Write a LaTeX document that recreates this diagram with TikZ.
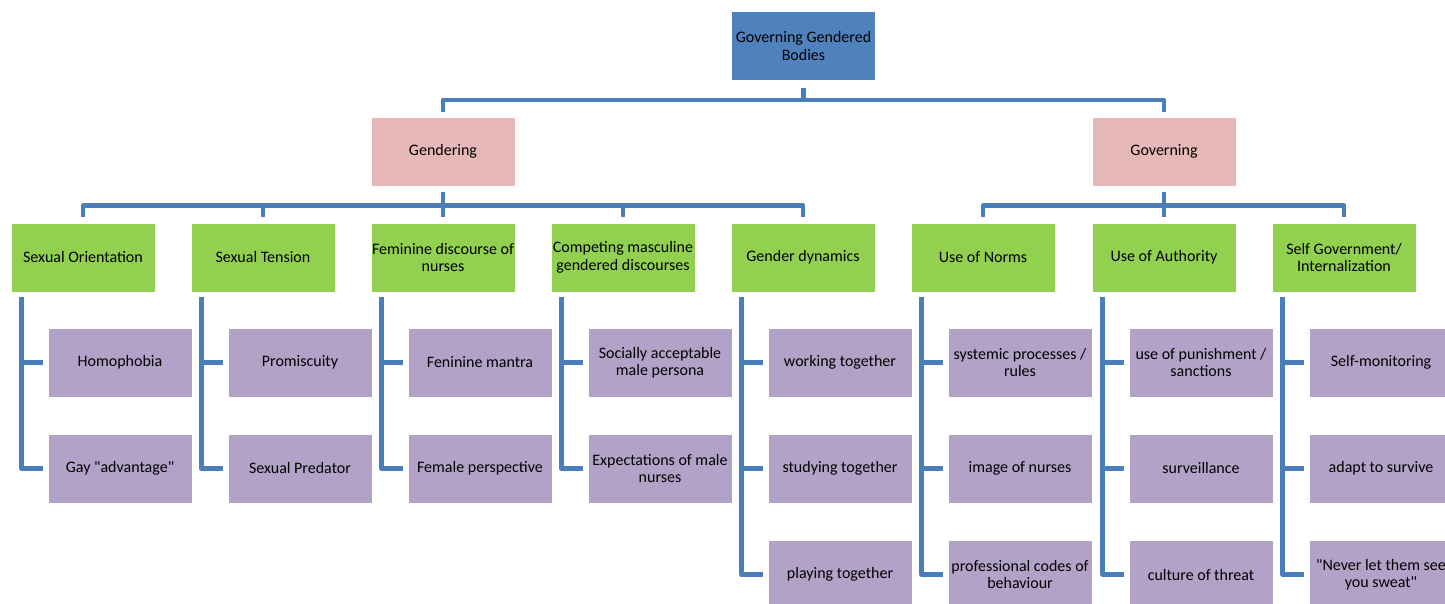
\documentclass[tikz,border=0pt]{standalone}
\usepackage{fontspec}
\setmainfont{Carlito}
\definecolor{rootblue}{HTML}{4F81BD}
\definecolor{pinkbox}{HTML}{E6B9B8}
\definecolor{greenbox}{HTML}{92D050}
\definecolor{purplebox}{HTML}{B3A2C7}
\definecolor{linkblue}{HTML}{4A7EBB}
\begin{document}
\begin{tikzpicture}[x=1pt,y=-1pt,
    box/.style={draw=white,line width=.8pt,minimum width=144pt,minimum height=69pt,
      inner sep=1pt,align=center,font=\fontsize{16}{17.5}\selectfont},
    topbox/.style={box,fill=rootblue},
    midbox/.style={box,fill=pinkbox},
    catbox/.style={box,fill=greenbox},
    codebox/.style={box,fill=purplebox},
    link/.style={draw=linkblue,line width=4.5pt,line join=round}]
  \useasboundingbox (0,0) rectangle (1445,604);
  \clip (0,0) rectangle (1445,604);
  % root and the two halves
  \node[topbox] (root) at (803.5,46) {Governing Gendered\\Bodies};
  \node[midbox] (gend) at (443,151.5) {Gendering};
  \node[midbox] (govn) at (1164,151.5) {Governing};
  % categories
  \node[catbox] (so) at (83,257.5) {Sexual Orientation};
  \node[catbox] (st) at (263,257.5) {Sexual Tension};
  \node[catbox] (fd) at (443,257.5) {Feminine discourse of\\nurses};
  \node[catbox] (cm) at (623,257.5) {Competing masculine\\gendered discourses};
  \node[catbox] (gd) at (803,257.5) {Gender dynamics};
  \node[catbox] (un) at (983,257.5) {Use of Norms};
  \node[catbox] (ua) at (1164,257.5) {Use of Authority};
  \node[catbox] (sg) at (1344,257.5) {Self Government/\\Internalization};
  % codes
  \node[codebox] (homo) at (120,362.5) {Homophobia};
  \node[codebox] (gay) at (120,468.5) {Gay \textquotedbl advantage\textquotedbl};
  \node[codebox] (prom) at (300,362.5) {Promiscuity};
  \node[codebox] (pred) at (300,468.5) {Sexual Predator};
  \node[codebox] (mantra) at (480,362.5) {Feninine mantra};
  \node[codebox] (persp) at (480,468.5) {Female perspective};
  \node[codebox] (persona) at (660,362.5) {Socially acceptable\\male persona};
  \node[codebox] (expect) at (660,468.5) {Expectations of male\\nurses};
  \node[codebox] (work) at (840,362.5) {working together};
  \node[codebox] (study) at (840,468.5) {studying together};
  \node[codebox] (play) at (840,574.5) {playing together};
  \node[codebox] (proc) at (1020,362.5) {systemic processes /\\rules};
  \node[codebox] (image) at (1020,468.5) {image of nurses};
  \node[codebox] (codes) at (1020,574.5) {professional codes of\\behaviour};
  \node[codebox] (punish) at (1201,362.5) {use of punishment /\\sanctions};
  \node[codebox] (surv) at (1201,468.5) {surveillance};
  \node[codebox] (threat) at (1201,574.5) {culture of threat};
  \node[codebox] (monit) at (1381,362.5) {Self-monitoring};
  \node[codebox] (adapt) at (1381,468.5) {adapt to survive};
  \node[codebox] (sweat) at (1381,574.5) {\textquotedbl Never let them see\\you sweat\textquotedbl};
  % connectors
  \foreach \c in {gend,govn}
    \draw[link] ([yshift=-7pt]root.south) -- ++(0,12) -| ([yshift=5pt]\c.north);
  \foreach \c in {so,st,fd,cm,gd}
    \draw[link] ([yshift=-6pt]gend.south) -- ++(0,13) -| ([yshift=6pt]\c.north);
  \foreach \c in {un,ua,sg}
    \draw[link] ([yshift=-6pt]govn.south) -- ++(0,13) -| ([yshift=6pt]\c.north);
  \foreach \c/\k in {so/homo,so/gay,st/prom,st/pred,fd/mantra,fd/persp,cm/persona,cm/expect,
      gd/work,gd/study,gd/play,un/proc,un/image,un/codes,ua/punish,ua/surv,ua/threat,
      sg/monit,sg/adapt,sg/sweat}
    \draw[link] ([xshift=11pt,yshift=-5pt]\c.south west) |- ([xshift=-5pt]\k.west);
\end{tikzpicture}
\end{document}
